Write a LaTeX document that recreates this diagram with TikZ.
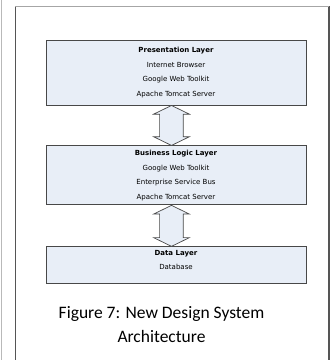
\documentclass[tikz,border=0pt]{standalone}
\usepackage{fontspec}
\setmainfont{Carlito}
\newfontfamily\boxfont{DejaVu Sans}
\usetikzlibrary{
        calc,
        positioning,
        shapes.arrows
    }
\definecolor{layerfill}{RGB}{232,238,247}
\definecolor{layerline}{RGB}{72,72,72}
\definecolor{pageline}{RGB}{85,85,85}
\tikzset{x=1pt,y=-1pt}
\tikzset{
    layer/.style={rectangle,draw=layerline,fill=layerfill,line width=0.9pt,
        minimum width=260pt,inner sep=0pt,align=center,
        font=\boxfont\fontsize{7}{14.5}\selectfont},
    updown/.style={double arrow,draw=layerline,fill=layerfill,line width=0.7pt,
        shape border rotate=90,inner xsep=11.5pt,inner ysep=0pt,
        double arrow head extend=6pt,double arrow tip angle=128,
        minimum height=40pt}
}

\begin{document}
\begin{tikzpicture}
            \useasboundingbox (0,0) rectangle (330,360);
            % page frame
            \draw[gray!55,line width=1.5pt] (1.5,0) -- (1.5,360);
            \draw[pageline,line width=1.2pt] (15.5,365) -- (15.5,6.5) -- (329,6.5) -- (329,365);
            \draw[gray!70,line width=1.2pt] (15.5,6.5) -- (329,6.5);

            \node[layer,minimum height=65pt] (pres) at (176,72.5)
                {\textbf{Presentation Layer}\\Internet Browser\\Google Web Toolkit\\Apache Tomcat Server};
            \node[layer,minimum height=59pt] (logic) [below=40pt of pres]
                {\textbf{Business Logic Layer}\\Google Web Toolkit\\Enterprise Service Bus\\Apache Tomcat Server};
            \node[layer,minimum height=37pt] (data) [below=41pt of logic]
                {\textbf{Data Layer}\\Database\vphantom{g}\\[-4pt]};

            \node[updown] (presLogic) at ($(pres.south)!0.5!(logic.north)+(-4.5,0)$) {};
            \node[updown,minimum height=41pt] (logicData) at ($(logic.south)!0.5!(data.north)+(-4.5,0)$) {};

            \node[align=center,font=\fontsize{17.5}{24}\selectfont] (caption) at (161.5,325)
                {Figure 7: New Design System\\Architecture};
        \end{tikzpicture}
\end{document}
